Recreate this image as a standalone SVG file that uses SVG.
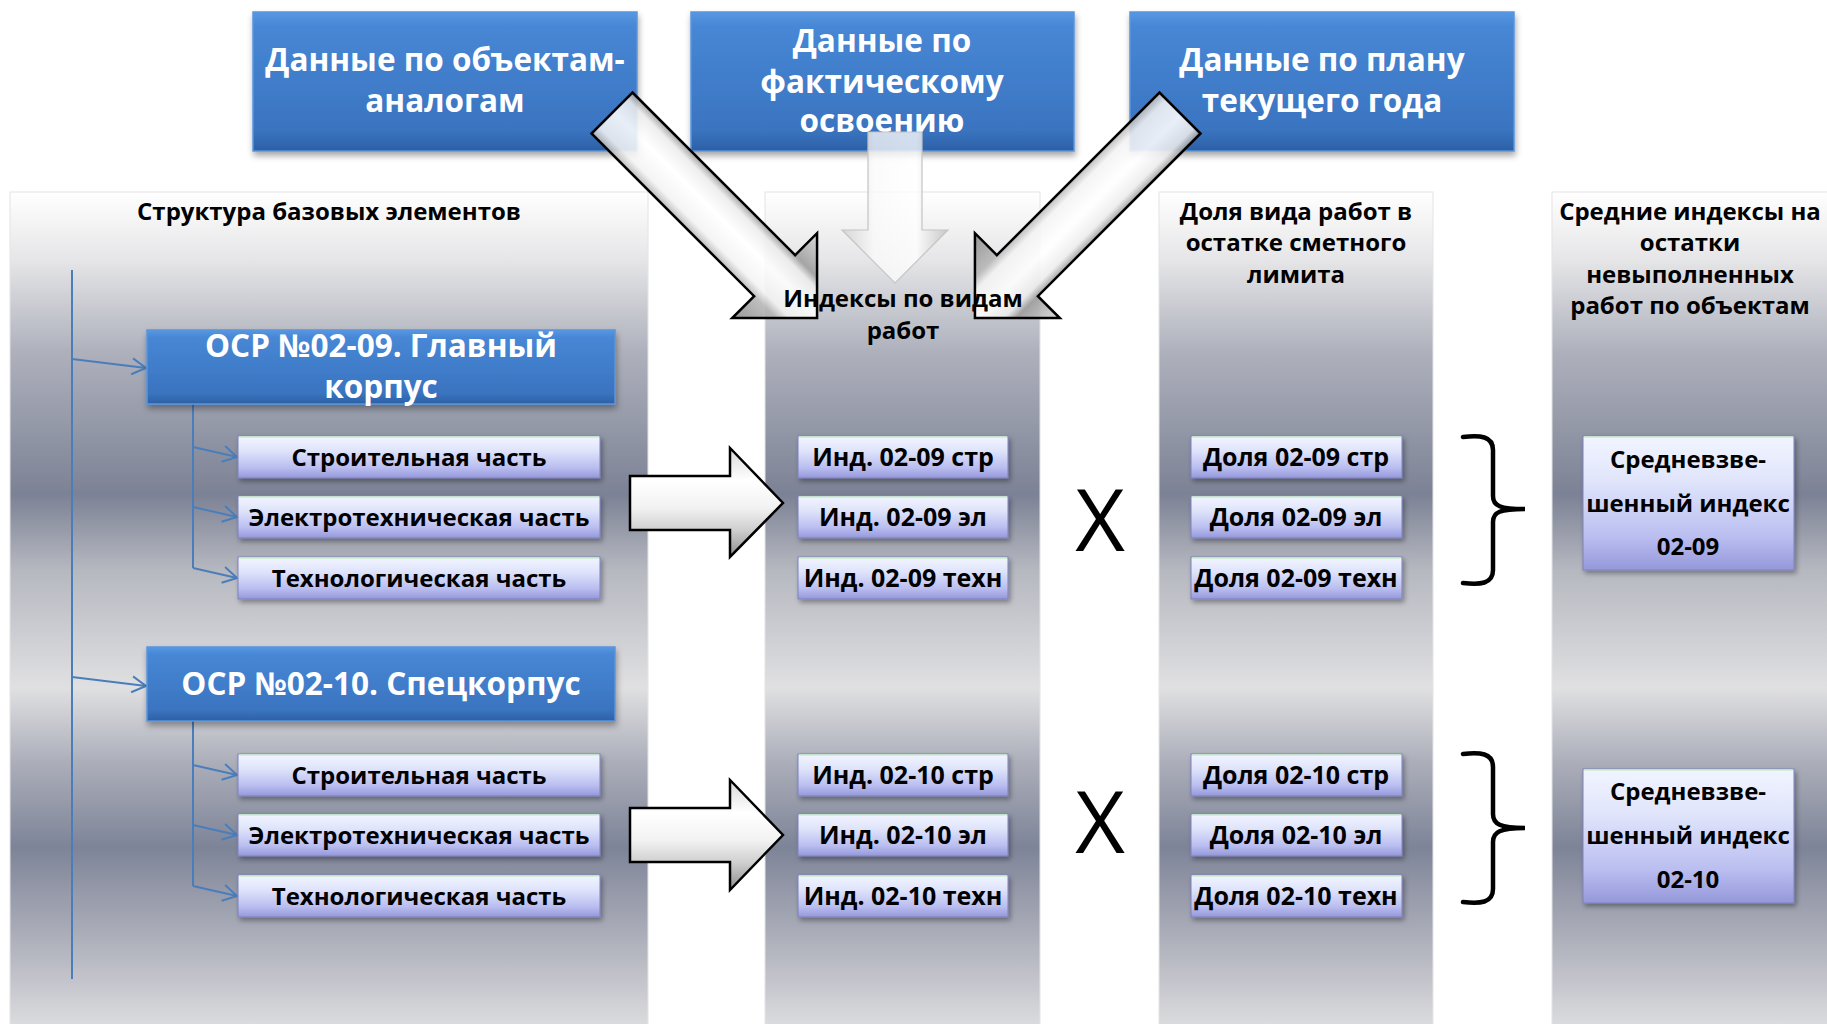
<svg xmlns="http://www.w3.org/2000/svg" width="1827" height="1024" viewBox="0 0 1827 1024">
<defs>
<style>
.t{font-family:"Open Sans","Liberation Sans",sans-serif;font-weight:700;text-anchor:middle}
.w{fill:#fff;font-size:31.5px}
.hdr{fill:#000;font-size:24px}
.sub{fill:#000;font-size:24px}
.idx{fill:#000;font-size:25px}
.wt{fill:#000;font-size:24px}
.xm{font-family:"Open Sans","Liberation Sans",sans-serif;font-weight:400;font-size:86px;fill:#000;text-anchor:middle}
.panel{fill:url(#panelGrad);stroke:#e4e4e6;stroke-width:1}
.blue{fill:url(#blueGrad);stroke:#5a95dd;stroke-width:1.5;filter:url(#sh)}
.lav{fill:url(#lavGrad);stroke:#7d81bb;stroke-width:1;filter:url(#sh2)}
.hl{fill:none;stroke:#c9ecc9;stroke-width:1.5}
.tree{fill:none;stroke:#4a7ebb;stroke-width:2}
.brace{fill:none;stroke:#000;stroke-width:4.5;stroke-linecap:round}
.blk{fill:url(#blkGrad);stroke:#000;stroke-width:2.5}
.diag{fill:url(#diagGrad);fill-opacity:0.88;stroke:#000;stroke-width:2.5}
</style>
<linearGradient id="panelGrad" x1="0" y1="0" x2="0" y2="1">
<stop offset="0" stop-color="#ffffff"/>
<stop offset="0.08" stop-color="#e6e6e8"/>
<stop offset="0.19" stop-color="#aeb1bc"/>
<stop offset="0.36" stop-color="#7c8295"/>
<stop offset="0.45" stop-color="#b6b8c0"/>
<stop offset="0.59" stop-color="#e0e0e2"/>
<stop offset="0.68" stop-color="#abaeb9"/>
<stop offset="0.78" stop-color="#7e8498"/>
<stop offset="0.90" stop-color="#b2b4be"/>
<stop offset="1" stop-color="#dfdfe1"/>
</linearGradient>
<linearGradient id="blueGrad" x1="0" y1="0" x2="0" y2="1">
<stop offset="0" stop-color="#5897e2"/>
<stop offset="0.1" stop-color="#4787d5"/>
<stop offset="0.85" stop-color="#3a74c0"/>
<stop offset="1" stop-color="#2c60a5"/>
</linearGradient>
<linearGradient id="lavGrad" x1="0" y1="0" x2="0" y2="1">
<stop offset="0" stop-color="#f2f5ff"/>
<stop offset="0.35" stop-color="#dfe4fb"/>
<stop offset="0.75" stop-color="#babef0"/>
<stop offset="1" stop-color="#9598da"/>
</linearGradient>
<linearGradient id="blkGrad" x1="0" y1="0" x2="0" y2="1">
<stop offset="0" stop-color="#d8d8d8"/>
<stop offset="0.3" stop-color="#ffffff"/>
<stop offset="0.55" stop-color="#f2f2f2"/>
<stop offset="0.75" stop-color="#cfcfcf"/>
<stop offset="1" stop-color="#8e8e8e"/>
</linearGradient>
<linearGradient id="diagGrad" x1="0" y1="0" x2="0" y2="1">
<stop offset="0" stop-color="#d6d6d6"/>
<stop offset="0.26" stop-color="#9c9c9c"/>
<stop offset="0.33" stop-color="#ececec"/>
<stop offset="0.48" stop-color="#ffffff"/>
<stop offset="0.66" stop-color="#f3f3f3"/>
<stop offset="0.74" stop-color="#b6b6b6"/>
<stop offset="1" stop-color="#8a8a8a"/>
</linearGradient>
<linearGradient id="downGrad" x1="0" y1="0" x2="1" y2="0">
<stop offset="0" stop-color="#cfcfcf"/>
<stop offset="0.3" stop-color="#fafafa"/>
<stop offset="0.7" stop-color="#ffffff"/>
<stop offset="1" stop-color="#bdbdbd"/>
</linearGradient>
<filter id="sh" x="-5%" y="-10%" width="110%" height="130%">
<feDropShadow dx="1" dy="4" stdDeviation="3" flood-color="#000" flood-opacity="0.35"/>
</filter>
<filter id="sh2" x="-5%" y="-20%" width="110%" height="160%">
<feDropShadow dx="2" dy="3" stdDeviation="2.5" flood-color="#000" flood-opacity="0.35"/>
</filter>
<marker id="chev" markerUnits="userSpaceOnUse" markerWidth="18" markerHeight="20" refX="15" refY="9" orient="auto">
<path d="M1,1 L15,9 L1,17" fill="none" stroke="#4a7ebb" stroke-width="2"/>
</marker>
</defs>

<rect x="0" y="0" width="1827" height="1024" fill="#ffffff"/>

<g id="panels">
<rect class="panel" x="10" y="192" width="638" height="840"/>
<rect class="panel" x="765" y="192" width="275" height="840"/>
<rect class="panel" x="1159" y="192" width="274" height="840"/>
<rect class="panel" x="1552" y="192" width="280" height="840"/>
</g>

<g id="src-analog">
<rect class="blue" x="253" y="12" width="384" height="139"/>
<text class="t w" x="445" y="71">Данные по объектам-</text>
<text class="t w" x="445" y="112">аналогам</text>
</g>
<g id="src-actual">
<rect class="blue" x="691" y="12" width="383" height="139"/>
<text class="t w" x="882" y="52">Данные по</text>
<text class="t w" x="882" y="93">фактическому</text>
<text class="t w" x="882" y="132">освоению</text>
</g>
<g id="src-plan">
<rect class="blue" x="1130" y="12" width="384" height="139"/>
<text class="t w" x="1322" y="71">Данные по плану</text>
<text class="t w" x="1322" y="112">текущего года</text>
</g>

<g id="connectors">
<polygon class="diag" transform="translate(612,113) rotate(45)" points="0,-29 230,-29 230,-60 290,0 230,60 230,29 0,29"/>
<polygon points="868,132 922,132 922,230 948,230 895,283 842,230 868,230" fill="url(#downGrad)" fill-opacity="0.78" stroke="#c4c4c4" stroke-width="1.2"/>
<polygon class="diag" transform="translate(1180,113) rotate(135)" points="0,-29 230,-29 230,-60 290,0 230,60 230,29 0,29"/>
<polygon class="blk" points="630,476 730,476 730,448 783,503 730,557 730,530 630,530"/>
<polygon class="blk" points="630,808 730,808 730,780 783,835 730,890 730,862 630,862"/>
<path class="tree" d="M72,270 V979"/>
<path class="tree" d="M72,359 L146,368" marker-end="url(#chev)"/>
<path class="tree" d="M72,677 L146,686" marker-end="url(#chev)"/>
<path class="tree" d="M193,404 V568"/>
<path class="tree" d="M193,447 L237,457" marker-end="url(#chev)"/>
<path class="tree" d="M193,507 L237,517" marker-end="url(#chev)"/>
<path class="tree" d="M193,568 L237,578" marker-end="url(#chev)"/>
<path class="tree" d="M193,721 V886"/>
<path class="tree" d="M193,765 L237,775" marker-end="url(#chev)"/>
<path class="tree" d="M193,825 L237,835" marker-end="url(#chev)"/>
<path class="tree" d="M193,886 L237,896" marker-end="url(#chev)"/>
</g>

<g id="hdr-structure"><text class="t hdr" x="329" y="220">Структура базовых элементов</text></g>
<g id="hdr-indices">
<text class="t hdr" x="903" y="307">Индексы по видам</text>
<text class="t hdr" x="903" y="339">работ</text>
</g>
<g id="hdr-share">
<text class="t hdr" x="1296" y="220">Доля вида работ в</text>
<text class="t hdr" x="1296" y="251">остатке сметного</text>
<text class="t hdr" x="1296" y="283">лимита</text>
</g>
<g id="hdr-avg">
<text class="t hdr" x="1690" y="220">Средние индексы на</text>
<text class="t hdr" x="1690" y="251">остатки</text>
<text class="t hdr" x="1690" y="283">невыполненных</text>
<text class="t hdr" x="1690" y="314">работ по объектам</text>
</g>

<g id="osr-0209">
<rect class="blue" x="147" y="330" width="468" height="74"/>
<text class="t w" x="381" y="357">ОСР №02-09. Главный</text>
<text class="t w" x="381" y="398">корпус</text>
</g>
<g id="osr-0210">
<rect class="blue" x="147" y="647" width="468" height="74"/>
<text class="t w" x="381" y="695">ОСР №02-10. Спецкорпус</text>
</g>

<g id="p0209-str"><rect class="lav" x="238" y="436" width="362" height="42"/><path class="hl" d="M239,437 H599"/><text class="t sub" x="419" y="466">Строительная часть</text></g>
<g id="p0209-el"><rect class="lav" x="238" y="496" width="362" height="42"/><path class="hl" d="M239,497 H599"/><text class="t sub" x="419" y="526">Электротехническая часть</text></g>
<g id="p0209-tech"><rect class="lav" x="238" y="557" width="362" height="42"/><path class="hl" d="M239,558 H599"/><text class="t sub" x="419" y="587">Технологическая часть</text></g>
<g id="p0210-str"><rect class="lav" x="238" y="754" width="362" height="42"/><path class="hl" d="M239,755 H599"/><text class="t sub" x="419" y="784">Строительная часть</text></g>
<g id="p0210-el"><rect class="lav" x="238" y="814" width="362" height="42"/><path class="hl" d="M239,815 H599"/><text class="t sub" x="419" y="844">Электротехническая часть</text></g>
<g id="p0210-tech"><rect class="lav" x="238" y="875" width="362" height="42"/><path class="hl" d="M239,876 H599"/><text class="t sub" x="419" y="905">Технологическая часть</text></g>

<g id="idx-0209-str"><rect class="lav" x="798" y="436" width="210" height="42"/><path class="hl" d="M799,437 H1007"/><text class="t idx" x="903" y="466">Инд. 02-09 стр</text></g>
<g id="idx-0209-el"><rect class="lav" x="798" y="496" width="210" height="42"/><path class="hl" d="M799,497 H1007"/><text class="t idx" x="903" y="526">Инд. 02-09 эл</text></g>
<g id="idx-0209-tech"><rect class="lav" x="798" y="557" width="210" height="42"/><path class="hl" d="M799,558 H1007"/><text class="t idx" x="903" y="587">Инд. 02-09 техн</text></g>
<g id="idx-0210-str"><rect class="lav" x="798" y="754" width="210" height="42"/><path class="hl" d="M799,755 H1007"/><text class="t idx" x="903" y="784">Инд. 02-10 стр</text></g>
<g id="idx-0210-el"><rect class="lav" x="798" y="814" width="210" height="42"/><path class="hl" d="M799,815 H1007"/><text class="t idx" x="903" y="844">Инд. 02-10 эл</text></g>
<g id="idx-0210-tech"><rect class="lav" x="798" y="875" width="210" height="42"/><path class="hl" d="M799,876 H1007"/><text class="t idx" x="903" y="905">Инд. 02-10 техн</text></g>

<g id="sh-0209-str"><rect class="lav" x="1191" y="436" width="211" height="42"/><path class="hl" d="M1192,437 H1401"/><text class="t idx" x="1296" y="466">Доля 02-09 стр</text></g>
<g id="sh-0209-el"><rect class="lav" x="1191" y="496" width="211" height="42"/><path class="hl" d="M1192,497 H1401"/><text class="t idx" x="1296" y="526">Доля 02-09 эл</text></g>
<g id="sh-0209-tech"><rect class="lav" x="1191" y="557" width="211" height="42"/><path class="hl" d="M1192,558 H1401"/><text class="t idx" x="1296" y="587">Доля 02-09 техн</text></g>
<g id="sh-0210-str"><rect class="lav" x="1191" y="754" width="211" height="42"/><path class="hl" d="M1192,755 H1401"/><text class="t idx" x="1296" y="784">Доля 02-10 стр</text></g>
<g id="sh-0210-el"><rect class="lav" x="1191" y="814" width="211" height="42"/><path class="hl" d="M1192,815 H1401"/><text class="t idx" x="1296" y="844">Доля 02-10 эл</text></g>
<g id="sh-0210-tech"><rect class="lav" x="1191" y="875" width="211" height="42"/><path class="hl" d="M1192,876 H1401"/><text class="t idx" x="1296" y="905">Доля 02-10 техн</text></g>

<g id="avg-0209">
<rect class="lav" x="1583" y="436" width="211" height="134"/><path class="hl" d="M1584,437 H1793"/>
<text class="t wt" x="1688" y="468">Средневзве-</text>
<text class="t wt" x="1688" y="512">шенный индекс</text>
<text class="t wt" x="1688" y="555">02-09</text>
</g>
<g id="avg-0210">
<rect class="lav" x="1583" y="769" width="211" height="134"/><path class="hl" d="M1584,770 H1793"/>
<text class="t wt" x="1688" y="800">Средневзве-</text>
<text class="t wt" x="1688" y="844">шенный индекс</text>
<text class="t wt" x="1688" y="888">02-10</text>
</g>

<g id="marks">
<text class="xm" x="1100" y="551">X</text>
<text class="xm" x="1100" y="853">X</text>
<path class="brace" d="M1463,437 C1480,435 1493,436 1493,450 L1493,496 C1493,506 1500,509 1525,509 C1500,509 1493,512 1493,522 L1493,570 C1493,584 1480,585 1463,583"/>
<path class="brace" d="M1463,754 C1480,752 1493,753 1493,767 L1493,814 C1493,824 1500,828 1525,828 C1500,828 1493,832 1493,842 L1493,889 C1493,903 1480,904 1463,902"/>
</g>
</svg>
